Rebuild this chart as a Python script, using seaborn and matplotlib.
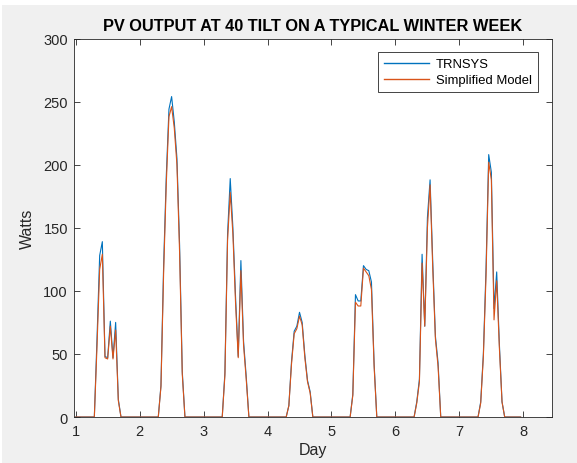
import numpy as np
import pandas as pd
import seaborn as sns
import matplotlib
matplotlib.use("Agg")
import matplotlib.pyplot as plt
from matplotlib.patches import Rectangle
from matplotlib.lines import Line2D

# hourly output, daylight hours 7..17 for each of the 7 days (zero outside)
trnsys_day = [
    [0, 62, 128, 139, 48, 47, 76, 47, 75, 14, 0],
    [0, 25, 120, 191, 244, 254, 234, 205, 136, 36, 0],
    [0, 35, 145, 189, 150, 95, 48, 124, 60, 32, 0],
    [0, 9, 44, 68, 72, 83, 75, 49, 29, 20, 0],
    [0, 18, 97, 92, 92, 120, 117, 116, 107, 42, 0],
    [0, 12, 30, 129, 72, 158, 188, 123, 64, 43, 0],
    [0, 12, 50, 118, 208, 194, 86, 115, 58, 12, 0],
]
simplified_day = [
    [0, 56, 117, 129, 47, 46, 72, 46, 69, 13, 0],
    [0, 24, 114, 185, 238, 246, 229, 200, 130, 34, 0],
    [0, 33, 140, 178, 145, 90, 47, 116, 57, 30, 0],
    [0, 9, 42, 66, 70, 80, 73, 47, 28, 19, 0],
    [0, 17, 91, 88, 88, 118, 115, 112, 101, 40, 0],
    [0, 11, 28, 122, 72, 150, 184, 118, 62, 40, 0],
    [0, 11, 48, 112, 202, 188, 77, 108, 55, 12, 0],
]
first_hour = 7
series_names = ["TRNSYS", "Simplified Model"]
colors = ["#0072BD", "#D95319"]


def week_series(days):
    vals = []
    for d in days:
        full = [0] * 24
        full[first_hour:first_hour + len(d)] = d
        vals += full
    return vals


day = 1 + np.arange(168) / 24
df = pd.concat([
    pd.DataFrame({"Day": day, "Watts": week_series(trnsys_day), "model": series_names[0]}),
    pd.DataFrame({"Day": day, "Watts": week_series(simplified_day), "model": series_names[1]}),
])

plt.rcParams["font.family"] = ["Liberation Sans", "DejaVu Sans"]
dark = "#262626"

fig = plt.figure(figsize=(5.77, 4.64), dpi=100, facecolor="#f0f0f0")
ax = fig.add_axes([0.1274, 0.0991, 0.8287, 0.8157])
fig.patches.append(Rectangle((0, 1 - 6 / 464), 1, 6 / 464, transform=fig.transFigure,
                             facecolor="white", edgecolor="none", zorder=-1))
fig.patches.append(Rectangle((0, 0), 2 / 577, 1, transform=fig.transFigure,
                             facecolor="white", edgecolor="none", zorder=-1))

sns.lineplot(data=df, x="Day", y="Watts", hue="model", palette=colors,
             linewidth=0.8, ax=ax, legend=False)

ax.set_xlim(0.966, 8.443)
ax.set_ylim(0, 300)
ax.set_xticks(range(1, 9))
ax.set_yticks(range(0, 301, 50))
ax.tick_params(direction="in", length=4, width=0.6, colors=dark, labelsize=10.5,
               top=True, right=True, pad=4)
ax.tick_params(axis="x", pad=5)
for s in ax.spines.values():
    s.set_color(dark)
    s.set_linewidth(0.6)

ax.set_xlabel("Day", fontsize=11.5, color=dark, labelpad=3)
ax.set_ylabel("Watts", fontsize=11.5, color=dark, labelpad=6)
ax.set_title("PV OUTPUT AT 40 TILT ON A TYPICAL WINTER WEEK", fontsize=11.8,
             fontweight="bold", pad=6)

handles = [Line2D([], [], color=c, linewidth=1.0) for c in colors]
leg = ax.legend(handles, series_names, loc="upper right",
                bbox_to_anchor=(0.971, 0.9636), fontsize=9.4, handlelength=3.5,
                fancybox=False, framealpha=1, edgecolor=dark, borderpad=0.45,
                labelspacing=0.3, handletextpad=0.5, borderaxespad=0)
leg.get_frame().set_linewidth(0.6)

fig.savefig("out.png", dpi=100, facecolor=fig.get_facecolor())
